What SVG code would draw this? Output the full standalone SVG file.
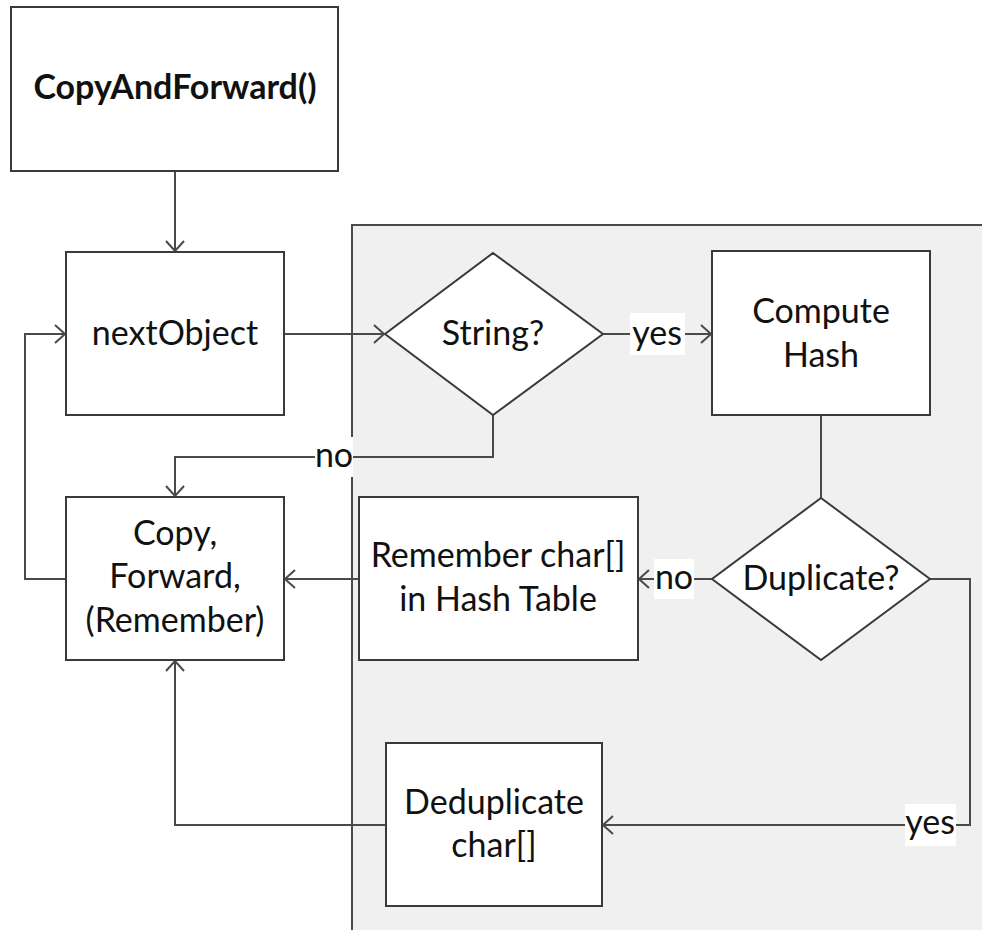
<svg xmlns="http://www.w3.org/2000/svg" width="982" height="930" viewBox="0 0 982 930">
  <style>
    .box { fill: #ffffff; stroke: #3a3a3a; stroke-width: 2; }
    .panel { fill: #f0f0f0; stroke: #4a4a4a; stroke-width: 2; }
    .wire { fill: none; stroke: #4a4a4a; stroke-width: 2; }
    .lbl { font-family: Lato, "Open Sans", sans-serif; font-size: 34px; fill: #111111; text-anchor: middle; }
    .title { font-weight: bold; }
    .lblbg { fill: #ffffff; }
  </style>
  <defs>
    <marker id="arrow" markerUnits="userSpaceOnUse" markerWidth="12" markerHeight="20" refX="10" refY="10" orient="auto" overflow="visible">
      <path d="M0,1 L10,10 L0,19" fill="none" stroke="#4a4a4a" stroke-width="2"/>
    </marker>
  </defs>

  <rect width="982" height="930" fill="#ffffff"/>

  <!-- shaded region behind the string-dedup steps -->
  <rect class="panel" x="352" y="225" width="640" height="720"/>

  <g id="connectors">
    <path class="wire" d="M175,171 V251" marker-end="url(#arrow)"/>
    <path class="wire" d="M284,334 H384" marker-end="url(#arrow)"/>
    <path class="wire" d="M603,334 H711" marker-end="url(#arrow)"/>
    <path class="wire" d="M821,415 V498"/>
    <path class="wire" d="M712,579 H639" marker-end="url(#arrow)"/>
    <path class="wire" d="M359,579 H285" marker-end="url(#arrow)"/>
    <path class="wire" d="M66,579 H25 V334 H65" marker-end="url(#arrow)"/>
    <path class="wire" d="M493,415 V457 H175 V496" marker-end="url(#arrow)"/>
    <path class="wire" d="M930,579 H970 V825 H603" marker-end="url(#arrow)"/>
    <path class="wire" d="M386,825 H175 V661" marker-end="url(#arrow)"/>
  </g>

  <g id="edge-labels">
    <rect class="lblbg" x="630" y="313" width="55" height="42"/>
    <text class="lbl" x="657" y="345">yes</text>
    <rect class="lblbg" x="315" y="437" width="38" height="40"/>
    <text class="lbl" x="334" y="467">no</text>
    <rect class="lblbg" x="654" y="559" width="40" height="40"/>
    <text class="lbl" x="674" y="589">no</text>
    <rect class="lblbg" x="905" y="804" width="51" height="42"/>
    <text class="lbl" x="930" y="834">yes</text>
  </g>

  <g id="copy-and-forward">
    <rect class="box" x="11" y="7" width="327" height="164"/>
    <text class="lbl title" x="175" y="99">CopyAndForward()</text>
  </g>

  <g id="next-object">
    <rect class="box" x="66" y="252" width="218" height="163"/>
    <text class="lbl" x="175" y="345">nextObject</text>
  </g>

  <g id="is-string">
    <polygon class="box" points="493,253 603,334 493,415 385,334"/>
    <text class="lbl" x="493" y="345">String?</text>
  </g>

  <g id="compute-hash">
    <rect class="box" x="712" y="251" width="218" height="164"/>
    <text class="lbl" x="821" y="323">Compute</text>
    <text class="lbl" x="821" y="367">Hash</text>
  </g>

  <g id="is-duplicate">
    <polygon class="box" points="821,498 930,579 821,660 712,579"/>
    <text class="lbl" x="821" y="590">Duplicate?</text>
  </g>

  <g id="remember-in-table">
    <rect class="box" x="359" y="497" width="279" height="163"/>
    <text class="lbl" x="498" y="567">Remember char[]</text>
    <text class="lbl" x="498" y="611">in Hash Table</text>
  </g>

  <g id="copy-forward-remember">
    <rect class="box" x="66" y="497" width="218" height="163"/>
    <text class="lbl" x="175" y="545">Copy,</text>
    <text class="lbl" x="175" y="588">Forward,</text>
    <text class="lbl" x="175" y="632">(Remember)</text>
  </g>

  <g id="deduplicate">
    <rect class="box" x="386" y="743" width="216" height="163"/>
    <text class="lbl" x="494" y="814">Deduplicate</text>
    <text class="lbl" x="494" y="857">char[]</text>
  </g>
</svg>
